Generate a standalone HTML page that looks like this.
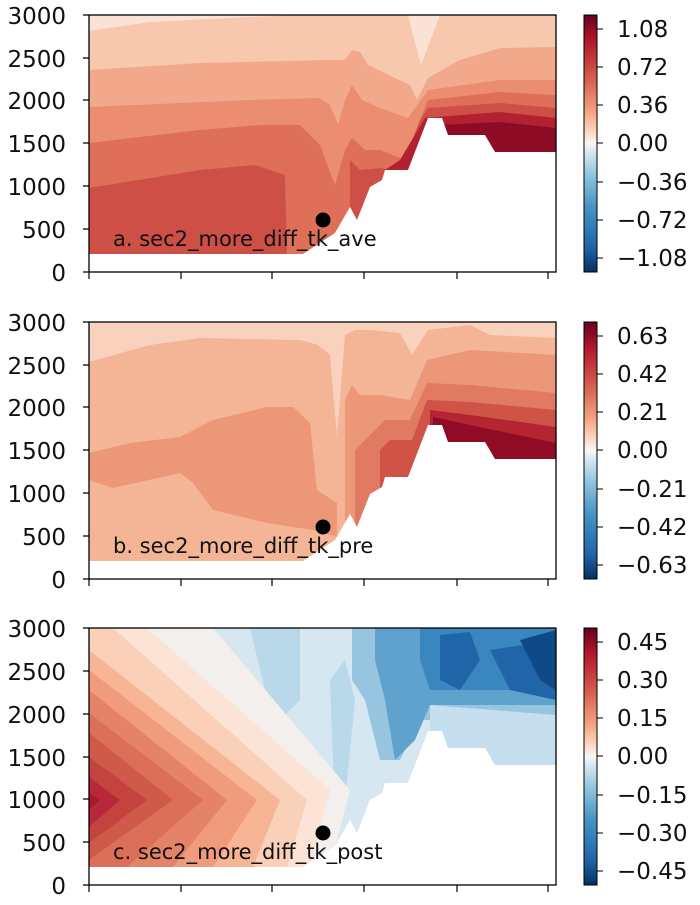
<!DOCTYPE html>
<html><head><meta charset="utf-8"><style>
body{margin:0;background:#fff;}
svg text{font-family:"DejaVu Sans","Liberation Sans",sans-serif;fill:#111;}
</style></head><body>
<svg width="700" height="900" viewBox="0 0 700 900" xmlns="http://www.w3.org/2000/svg">
<defs>
<linearGradient id="cb" x1="0" y1="0" x2="0" y2="1">
<stop offset="0" stop-color="#67001f"/><stop offset="0.1" stop-color="#b2182b"/>
<stop offset="0.25" stop-color="#d6604d"/><stop offset="0.38" stop-color="#f4a582"/>
<stop offset="0.46" stop-color="#fddbc7"/><stop offset="0.5" stop-color="#f7f7f7"/>
<stop offset="0.54" stop-color="#d1e5f0"/><stop offset="0.62" stop-color="#92c5de"/>
<stop offset="0.75" stop-color="#4393c3"/><stop offset="0.9" stop-color="#2166ac"/>
<stop offset="1" stop-color="#053061"/></linearGradient>
<clipPath id="ca"><rect x="89" y="15" width="467" height="257"/></clipPath>
<clipPath id="cbp"><rect x="89" y="322" width="467" height="257"/></clipPath>
<clipPath id="cc"><rect x="89" y="628" width="467" height="257"/></clipPath>
</defs>

<!-- Panel a -->
<g clip-path="url(#ca)">
<rect x="89" y="15" width="467" height="257" fill="#fae3d6"/>
<polygon fill="#f7c7ae" points="89,31 150,22 250,17 300,15 408,15 421,65 440,15 556,15 556,272 89,272"/>
<polygon fill="#f2a98b" points="89,70 200,63 330,60 345,60 352,50 360,52 368,65 410,85 417,100 428,78 460,60 500,48 556,47 556,272 89,272"/>
<polygon fill="#ea8d70" points="89,107 250,100 320,98 330,105 338,125 345,100 352,85 362,100 380,108 408,118 428,90 500,80 556,80 556,272 89,272"/>
<polygon fill="#de7059" points="89,143 200,130 260,125 300,125 320,145 335,185 345,150 352,138 365,150 380,150 405,160 428,100 500,92 556,95 556,272 89,272"/>
<polygon fill="#ce4f45" points="89,188 200,170 255,165 285,175 287,254 89,254"/>
<polygon fill="#ce4f45" points="350,160 360,170 380,168 400,172 420,120 428,108 500,103 556,108 556,272 350,272"/>
<polygon fill="#b3202f" points="385,170 400,160 425,118 500,112 556,118 556,272 385,272"/>
<polygon fill="#8e0b25" points="440,125 500,122 556,128 556,272 440,272"/>
<polygon fill="#fff" points="80,254 303,254 335,233 350,207 357,220 370,187 382,180 385,170 408,170 428,118 442,118 448,135 485,135 495,152 560,152 560,280 80,280"/>
</g>
<rect x="89" y="15" width="467" height="257" fill="none" stroke="#000" stroke-width="1.3"/>
<circle cx="323" cy="220" r="7.5" fill="#000"/>
<text x="113" y="246" font-size="21">a. sec2_more_diff_tk_ave</text>

<!-- Panel b -->
<g clip-path="url(#cbp)">
<rect x="89" y="322" width="467" height="257" fill="#f8d2bd"/>
<polygon fill="#f4b496" points="89,362 150,345 200,338 300,340 318,345 330,355 337,437 345,335 355,330 372,330 400,333 412,355 428,330 470,325 490,335 556,338 556,579 89,579"/>
<polygon fill="#ec9878" points="89,453 130,443 180,437 213,420 267,407 293,407 310,423 317,490 337,503 337,537 313,530 267,523 213,510 193,483 180,473 113,488 89,480"/>
<polygon fill="#ec9878" points="345,400 352,385 360,395 380,395 410,400 427,360 470,350 556,355 556,579 345,579"/>
<polygon fill="#e07a62" points="355,450 365,440 385,420 410,420 427,383 470,385 556,393 556,579 355,579"/>
<polygon fill="#cf5346" points="380,450 390,440 412,440 427,400 470,402 556,410 556,579 380,579"/>
<polygon fill="#b52431" points="430,410 470,415 556,427 556,579 430,579"/>
<polygon fill="#8f0c24" points="433,417 470,425 556,443 556,579 433,579"/>
<polygon fill="#fff" points="80,561 303,561 335,540 350,514 357,527 370,494 382,487 385,477 408,477 428,425 442,425 448,442 485,442 495,459 560,459 560,590 80,590"/>
</g>
<rect x="89" y="322" width="467" height="257" fill="none" stroke="#000" stroke-width="1.3"/>
<circle cx="323" cy="527" r="7.5" fill="#000"/>
<text x="113" y="553" font-size="21">b. sec2_more_diff_tk_pre</text>

<!-- Panel c -->
<g clip-path="url(#cc)">
<rect x="89" y="628" width="467" height="257" fill="#d6e7f1"/>
<polygon fill="#b9d8ea" points="250,628 300,628 300,700 280,720 265,690"/>
<polygon fill="#b9d8ea" points="330,680 345,660 355,700 345,800 335,820"/>
<polygon fill="#97c5df" points="352,628 556,628 556,720 420,720 400,760 380,760 365,700 352,680"/>
<polygon fill="#5fa2cd" points="375,628 556,628 556,705 430,705 415,740 395,760 385,700 375,660"/>
<polygon fill="#3a87bf" points="420,628 556,628 556,690 430,690 420,660"/>
<polygon fill="#2065a8" points="440,635 470,632 480,660 460,690 440,680"/>
<polygon fill="#2065a8" points="490,650 556,640 556,700 510,690"/>
<polygon fill="#0f4a87" points="520,640 556,630 556,690 540,680"/>
<polygon fill="#c6dfee" points="430,705 556,715 556,770 430,770"/>
<polygon fill="#f3efed" points="89,628 213,628 350,790 330,867 89,867"/>
<polygon fill="#fbe3d6" points="89,628 147,628 330,790 310,867 89,867"/>
<polygon fill="#fbd0b9" points="89,628 113,628 307,800 287,867 89,867"/>
<polygon fill="#f7b596" points="89,650 280,800 253,867 89,867"/>
<polygon fill="#f09c7c" points="89,670 257,800 213,867 89,867"/>
<polygon fill="#e58368" points="89,690 227,800 173,867 89,867"/>
<polygon fill="#dc6f58" points="89,713 203,800 127,867 89,867"/>
<polygon fill="#d05a4a" points="89,733 173,800 89,860"/>
<polygon fill="#c4433f" points="89,757 147,800 89,843"/>
<polygon fill="#b8283a" points="89,777 120,800 89,827"/>
<polygon fill="#a51c2c" points="89,793 100,800 89,810"/>
<polygon fill="#fff" points="80,867 303,867 335,846 350,820 357,833 370,800 382,793 385,783 408,783 428,731 442,731 448,748 485,748 495,765 560,765 560,895 80,895"/>
</g>
<rect x="89" y="628" width="467" height="257" fill="none" stroke="#000" stroke-width="1.3"/>
<circle cx="323" cy="833" r="7.5" fill="#000"/>
<text x="113" y="859" font-size="21">c. sec2_more_diff_tk_post</text>

<!-- Axes ticks and labels -->
<g stroke="#000" stroke-width="1.2">
<path d="M89,15h-6M89,58h-6M89,100h-6M89,143h-6M89,186h-6M89,229h-6M89,272h-6"/>
<path d="M89,322h-6M89,365h-6M89,407h-6M89,450h-6M89,493h-6M89,536h-6M89,579h-6"/>
<path d="M89,628h-6M89,671h-6M89,714h-6M89,757h-6M89,799h-6M89,842h-6M89,885h-6"/>
<path d="M89,272v7M181,272v7M272,272v7M364,272v7M457,272v7M548,272v7"/>
<path d="M89,579v7M181,579v7M272,579v7M364,579v7M457,579v7M548,579v7"/>
<path d="M89,885v7M181,885v7M272,885v7M364,885v7M457,885v7M548,885v7"/>
</g>
<g font-size="23" text-anchor="end">
<text x="66" y="24">3000</text><text x="66" y="67">2500</text><text x="66" y="109">2000</text><text x="66" y="152">1500</text><text x="66" y="195">1000</text><text x="66" y="238">500</text><text x="66" y="281">0</text>
<text x="66" y="331">3000</text><text x="66" y="374">2500</text><text x="66" y="416">2000</text><text x="66" y="459">1500</text><text x="66" y="502">1000</text><text x="66" y="545">500</text><text x="66" y="588">0</text>
<text x="66" y="637">3000</text><text x="66" y="680">2500</text><text x="66" y="723">2000</text><text x="66" y="766">1500</text><text x="66" y="808">1000</text><text x="66" y="851">500</text><text x="66" y="894">0</text>
</g>

<!-- Colorbars -->
<g stroke="#000" stroke-width="1">
<rect x="584" y="15" width="13" height="257" fill="url(#cb)"/>
<rect x="584" y="322" width="13" height="257" fill="url(#cb)"/>
<rect x="584" y="628" width="13" height="257" fill="url(#cb)"/>
<path d="M597,29h6M597,67h6M597,105h6M597,143h6M597,182h6M597,220h6M597,258h6"/>
<path d="M597,336h6M597,374h6M597,412h6M597,450h6M597,489h6M597,527h6M597,565h6"/>
<path d="M597,642h6M597,680h6M597,718h6M597,756h6M597,795h6M597,833h6M597,871h6"/>
</g>
<g font-size="23">
<text x="617" y="37">1.08</text><text x="617" y="75">0.72</text><text x="617" y="113">0.36</text><text x="617" y="151">0.00</text><text x="617" y="190">−0.36</text><text x="617" y="228">−0.72</text><text x="617" y="266">−1.08</text>
<text x="617" y="344">0.63</text><text x="617" y="382">0.42</text><text x="617" y="420">0.21</text><text x="617" y="458">0.00</text><text x="617" y="497">−0.21</text><text x="617" y="535">−0.42</text><text x="617" y="573">−0.63</text>
<text x="617" y="650">0.45</text><text x="617" y="688">0.30</text><text x="617" y="726">0.15</text><text x="617" y="764">0.00</text><text x="617" y="803">−0.15</text><text x="617" y="841">−0.30</text><text x="617" y="879">−0.45</text>
</g>
</svg>
</body></html>
